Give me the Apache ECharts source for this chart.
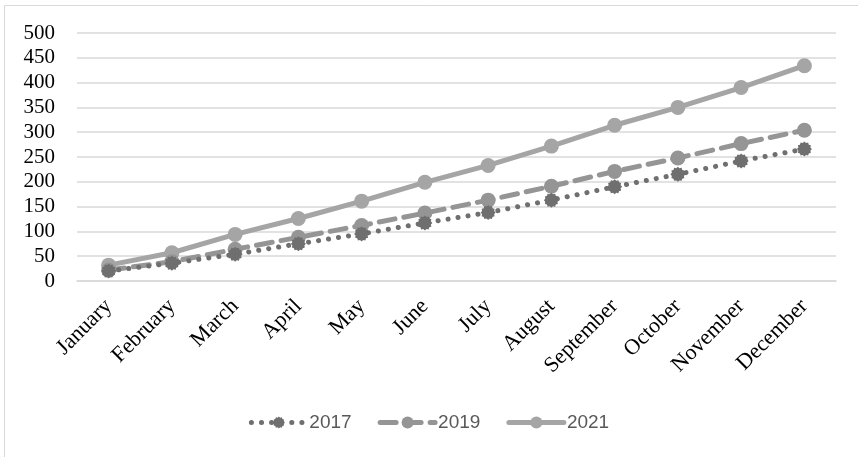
<!DOCTYPE html>
<html>
<head>
<meta charset="utf-8">
<script src="https://cdn.jsdelivr.net/npm/echarts@6/dist/echarts.min.js"></script>
<style>
  html, body { margin: 0; padding: 0; background: #ffffff; }
  #chart { width: 858px; height: 457px; }
</style>
</head>
<body>
<div id="chart"></div>
<script>
// Monthly cumulative values for three years
const months = ['January', 'February', 'March', 'April', 'May', 'June', 'July',
  'August', 'September', 'October', 'November', 'December'];
const values2017 = [20, 36, 54, 75, 95, 117, 138, 163, 190, 215, 242, 266];
const values2019 = [22, 39, 64, 88, 112, 137, 163, 191, 221, 248, 277, 304];
const values2021 = [32, 57, 94, 126, 161, 199, 233, 272, 314, 350, 390, 434];
const yTicks = [0, 50, 100, 150, 200, 250, 300, 350, 400, 450, 500];

// Gear-shaped marker outline
function gearPath(teeth) {
  const pts = [];
  const n = teeth * 2;
  for (let i = 0; i < n; i++) {
    const a = (i / n) * Math.PI * 2;
    const r = i % 2 === 0 ? 10 : 8.3;
    pts.push((10 + r * Math.cos(a)).toFixed(2) + ' ' + (10 + r * Math.sin(a)).toFixed(2));
  }
  return 'path://M' + pts.join(' L') + ' Z';
}
const gear = gearPath(12);

const chart = echarts.init(document.getElementById('chart'), null, { renderer: 'canvas' });

chart.setOption({
  animation: false,
  backgroundColor: '#ffffff',
  graphic: [{
    type: 'rect',
    shape: { x: 4.5, y: 5.5, width: 870, height: 470 },
    style: { fill: 'none', stroke: '#d9d9d9', lineWidth: 1 },
    silent: true,
    z: -1
  }],
  grid: { left: 77, right: 22, top: 33, bottom: 176 },
  legend: {
    bottom: 20,
    left: 'center',
    itemWidth: 55,
    itemHeight: 15,
    itemGap: 26,
    textStyle: { fontFamily: 'Liberation Sans', fontSize: 19, color: '#595959', padding: [0, 0, 0, -2] },
    data: ['2017', '2019', '2021']
  },
  xAxis: {
    type: 'category',
    data: months,
    boundaryGap: true,
    axisLine: { show: true, lineStyle: { color: '#d9d9d9', width: 1.5 } },
    axisTick: { show: false },
    axisLabel: {
      rotate: 45,
      margin: 22,
      interval: 0,
      fontFamily: 'Liberation Serif',
      fontSize: 22,
      color: '#000000'
    }
  },
  yAxis: {
    type: 'value',
    min: 0,
    max: 500,
    interval: 50,
    axisLine: { show: false },
    axisTick: { show: false },
    splitLine: { lineStyle: { color: '#d9d9d9', width: 1.5 } },
    axisLabel: {
      margin: 22,
      fontFamily: 'Liberation Serif',
      fontSize: 21,
      color: '#000000',
      formatter: v => (yTicks.indexOf(v) >= 0 ? String(v) : '')
    }
  },
  series: [
    {
      name: '2017',
      type: 'line',
      data: values2017,
      symbol: gear,
      symbolSize: 15,
      itemStyle: { color: '#6f6f6f' },
      lineStyle: { color: '#6f6f6f', width: 5, type: [0.1, 10], cap: 'round' },
      z: 3
    },
    {
      name: '2019',
      type: 'line',
      data: values2019,
      symbol: 'circle',
      symbolSize: 15,
      itemStyle: { color: '#959595' },
      lineStyle: { color: '#959595', width: 5, type: [16, 9], cap: 'round' },
      z: 2
    },
    {
      name: '2021',
      type: 'line',
      data: values2021,
      symbol: 'circle',
      symbolSize: 15,
      itemStyle: { color: '#a5a5a5' },
      lineStyle: { color: '#a5a5a5', width: 5 },
      z: 1
    }
  ]
});

// Legend glyphs follow each series' own stroke width and dash pattern
chart.setOption({
  legend: {
    lineStyle: { width: 5, cap: 'round' }
  }
});
</script>
</body>
</html>
